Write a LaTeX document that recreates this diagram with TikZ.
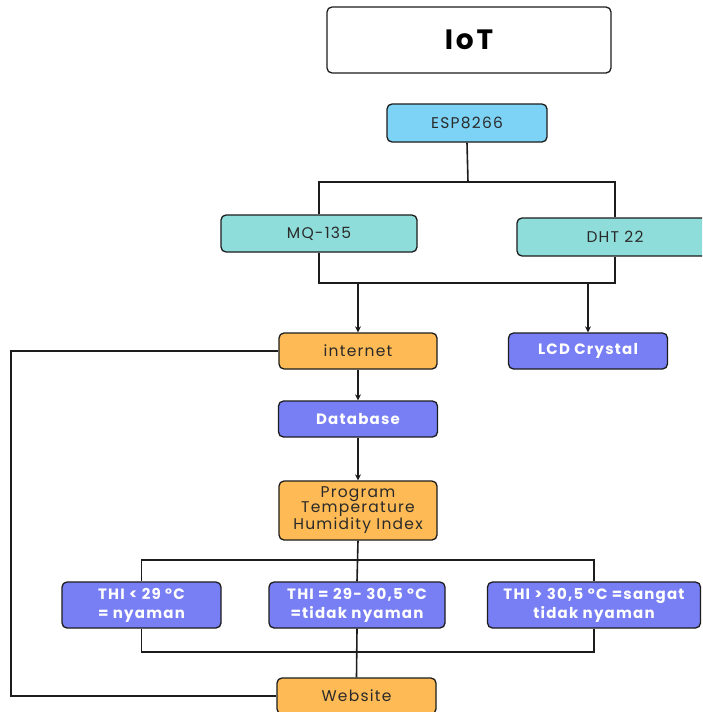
\documentclass[tikz,border=0pt]{standalone}
\usepackage{fontspec}
\setmainfont{Poppins}
\newfontfamily\lblfont[LetterSpace=8]{Poppins}
\newfontfamily\whtfont[LetterSpace=8]{Poppins}
\newfontfamily\ttlfont[LetterSpace=10]{Poppins}
\usetikzlibrary{arrows.meta}
\definecolor{espblue}{HTML}{7DD3F6}
\definecolor{teal}{HTML}{8EDDDA}
\definecolor{orng}{HTML}{FDBA55}
\definecolor{purp}{HTML}{787EF4}
\definecolor{ink}{HTML}{1C1C1C}
\definecolor{txt}{HTML}{2A2A2A}
\tikzset{
  box/.style={draw=ink, line width=1.3pt, rounded corners=5pt, align=center, inner sep=0pt},
  lightbox/.style={box, text=txt, font=\lblfont\fontsize{15.5}{16}\selectfont},
  darkbox/.style={box, fill=purp, text=white, font=\whtfont\bfseries\fontsize{15}{16}\selectfont},
  conn/.style={draw=ink, line width=1.6pt},
  arr/.style={conn, -{Stealth[length=6pt,width=6pt]}},
}
\begin{document}
\begin{tikzpicture}[x=1pt,y=-1pt]
\useasboundingbox (0,0) rectangle (702,712);
\clip (0,0) rectangle (702,712);
\fill[white] (0,0) rectangle (702,712);
% nodes
\node[box, fill=white, minimum width=284pt, minimum height=66pt, font=\ttlfont\bfseries\fontsize{28}{30}\selectfont, text=black] (iot) at (469,40) {IoT};
\node[lightbox, fill=espblue, minimum width=160pt, minimum height=38pt] (esp) at (467,123) {ESP8266};
\node[lightbox, fill=teal, minimum width=196pt, minimum height=37pt] (mq) at (319,233.5) {MQ-135};
\node[lightbox, fill=teal, minimum width=196pt, minimum height=38pt] (dht) at (615,237) {DHT 22};
\node[lightbox, fill=orng, minimum width=158pt, minimum height=36pt] (inet) at (358,351) {internet};
\node[darkbox, minimum width=159pt, minimum height=36pt] (lcd) at (588,351) {LCD Crystal};
\node[darkbox, minimum width=159pt, minimum height=36pt] (db) at (358,419) {Database};
\node[lightbox, fill=orng, minimum width=158pt, minimum height=59pt, font=\lblfont\fontsize{15.5}{15}\selectfont] (prog) at (358,510.5) {Program\\Temperature\\Humidity Index};
\node[darkbox, minimum width=159pt, minimum height=46pt, font=\whtfont\bfseries\fontsize{15}{19}\selectfont] (t1) at (141.5,605) {THI < 29 °C\\= nyaman};
\node[darkbox, minimum width=176pt, minimum height=46pt, font=\whtfont\bfseries\fontsize{15}{19}\selectfont] (t2) at (357,605) {THI = 29- 30,5 °C\\=tidak nyaman};
\node[darkbox, minimum width=213pt, minimum height=46pt, font=\whtfont\bfseries\fontsize{15}{19}\selectfont] (t3) at (594,605) {THI > 30,5 °C =sangat\\tidak nyaman};
\node[lightbox, fill=orng, minimum width=159pt, minimum height=36pt] (web) at (356.5,696) {Website};
% junctions
\coordinate (j1) at (468,182);
\coordinate (j2) at (468,283);
\coordinate (a1) at (358,283);
\coordinate (a2) at (588,283);
\coordinate (j3) at (357,560);
\coordinate (j4) at (357,652);
\coordinate (lft) at (11,351);
% connectors
\draw[conn] (esp.south) -- (j1);
\draw[conn] (mq.north) |- (j1) -| (dht.north);
\draw[conn] (mq.south) |- (j2) -| (dht.south);
\draw[arr] (a1) -- (inet.north);
\draw[arr] (a2) -- (lcd.north);
\draw[arr] (inet.south) -- (db.north);
\draw[arr] (db.south) -- (prog.north);
\draw[conn] (prog.south) -- (t2.north);
\draw[conn] (t1.north) |- (j3) -| (t3.north);
\draw[conn] (t1.south) |- (j4) -| (t3.south);
\draw[conn] (t2.south) -- (web.north);
\draw[conn] (inet.west) -- (lft) |- (web.west);
\end{tikzpicture}
\end{document}
